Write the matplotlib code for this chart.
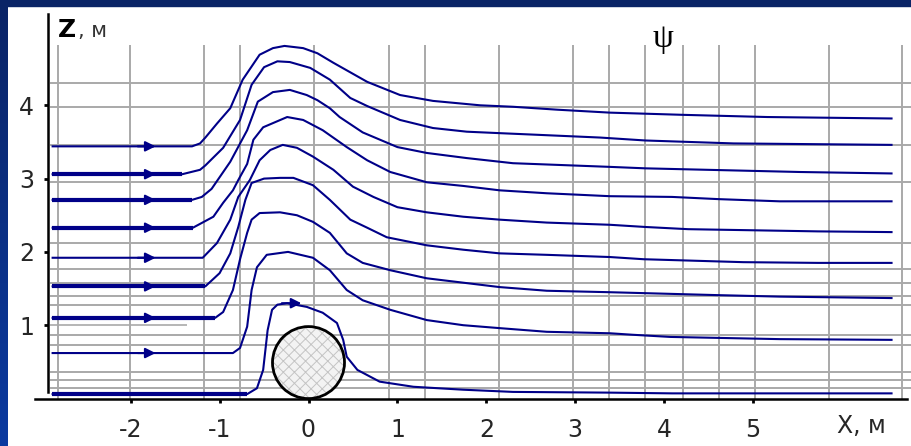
import matplotlib
matplotlib.use("Agg")
import matplotlib.pyplot as plt
import numpy as np
from matplotlib.patches import Ellipse, Rectangle
from matplotlib.colors import LinearSegmentedColormap

# ---------------- data ----------------
x_ticks = [-2, -1, 0, 1, 2, 3, 4, 5]
z_ticks = [1, 2, 3, 4]

grid_x = [-2.82, -2.01, -1.18, -0.77, 0.06, 0.91, 1.31, 2.14, 2.98, 3.38,
          3.79, 4.21, 4.62, 5.02, 5.86, 6.68]
grid_z = [4.30, 3.98, 3.46, 2.95, 2.12, 1.77, 1.58, 1.40, 1.28, 0.87, 0.73,
          0.36, 0.25, 0.14]

# streamlines (x, z), from top to bottom
L1_x = [-2.89, -1.31, -1.22, -1.16, -1.03, -0.88, -0.74, -0.55, -0.40, -0.27, -0.06,
        0.10, 0.28, 0.66, 1.03, 1.40, 1.93, 2.30, 2.80, 3.39, 4.21, 5.16, 6.57]
L1_z = [3.44, 3.44, 3.48, 3.56, 3.75, 3.96, 4.35, 4.69, 4.78, 4.81, 4.78,
        4.71, 4.58, 4.32, 4.14, 4.06, 4.00, 3.98, 3.94, 3.90, 3.87, 3.84, 3.82]

L2_x = [-2.89, -1.42, -1.22, -1.16, -0.96, -0.77, -0.64, -0.50, -0.35, -0.21, 0.02,
        0.24, 0.47, 0.66, 1.03, 1.40, 1.78, 2.15, 2.53, 3.28, 3.79, 4.78, 6.57]
L2_z = [3.06, 3.06, 3.12, 3.18, 3.42, 3.80, 4.28, 4.52, 4.60, 4.59, 4.51,
        4.35, 4.10, 3.99, 3.80, 3.69, 3.64, 3.62, 3.60, 3.56, 3.52, 3.48, 3.46]

L3_x = [-2.89, -1.31, -1.20, -1.09, -0.88, -0.69, -0.57, -0.40, -0.21, -0.02,
        0.10, 0.24, 0.35, 0.61, 1.00, 1.33, 1.78, 2.30, 3.39, 3.79, 5.53, 6.57]
L3_z = [2.71, 2.71, 2.75, 2.86, 3.23, 3.66, 4.05, 4.18, 4.21, 4.14,
        4.07, 3.96, 3.84, 3.63, 3.43, 3.35, 3.28, 3.21, 3.16, 3.14, 3.09, 3.07]

L4_x = [-2.89, -1.30, -1.07, -0.96, -0.85, -0.79, -0.69, -0.62, -0.51, -0.24, -0.06,
        0.16, 0.43, 0.66, 0.92, 1.33, 1.74, 2.15, 2.68, 3.39, 4.09, 4.61, 5.30, 6.57]
L4_z = [2.33, 2.33, 2.48, 2.67, 2.84, 2.98, 3.20, 3.53, 3.70, 3.84, 3.80,
        3.66, 3.43, 3.25, 3.09, 2.95, 2.90, 2.84, 2.80, 2.76, 2.75, 2.72, 2.69, 2.69]

L5_x = [-2.89, -1.19, -1.03, -0.88, -0.79, -0.66, -0.55, -0.43, -0.29, -0.13, 0.05,
        0.28, 0.50, 0.73, 1.00, 1.33, 1.74, 2.15, 2.68, 3.39, 3.79, 4.27, 5.73, 6.57]
L5_z = [1.92, 1.92, 2.12, 2.44, 2.75, 2.98, 3.25, 3.39, 3.46, 3.42, 3.30,
        3.12, 2.89, 2.75, 2.61, 2.54, 2.48, 2.44, 2.40, 2.37, 2.34, 2.31, 2.28, 2.27]

L6_x = [-2.89, -1.16, -1.00, -0.88, -0.79, -0.71, -0.64, -0.50, -0.32, -0.17, 0.05,
        0.24, 0.47, 0.66, 0.88, 1.33, 1.74, 2.15, 2.68, 3.39, 3.77, 4.89, 5.73, 6.57]
L6_z = [1.53, 1.53, 1.71, 1.98, 2.34, 2.71, 2.94, 3.00, 3.01, 3.01, 2.91,
        2.71, 2.44, 2.33, 2.20, 2.09, 2.03, 1.98, 1.96, 1.93, 1.90, 1.86, 1.85, 1.85]

L7_x = [-2.89, -1.05, -0.96, -0.85, -0.77, -0.69, -0.64, -0.55, -0.32, -0.13, 0.05,
        0.24, 0.43, 0.61, 0.92, 1.33, 1.74, 2.15, 2.68, 3.39, 4.61, 5.30, 6.57]
L7_z = [1.10, 1.10, 1.18, 1.48, 1.90, 2.26, 2.44, 2.53, 2.54, 2.50, 2.41,
        2.26, 1.98, 1.85, 1.75, 1.64, 1.58, 1.52, 1.47, 1.45, 1.41, 1.39, 1.37]

L8_x = [-2.89, -0.85, -0.77, -0.69, -0.64, -0.58, -0.47, -0.23, 0.05, 0.24, 0.43,
        0.61, 0.92, 1.33, 1.74, 2.15, 2.68, 3.39, 3.64, 4.07, 5.30, 6.57]
L8_z = [0.62, 0.62, 0.69, 0.98, 1.48, 1.79, 1.96, 2.00, 1.92, 1.75, 1.48,
        1.34, 1.21, 1.07, 1.00, 0.96, 0.91, 0.89, 0.87, 0.84, 0.81, 0.80]

L9_x = [-2.89, -0.69, -0.58, -0.51, -0.46, -0.41, -0.35, -0.24, -0.02, 0.16, 0.32,
        0.39, 0.43, 0.55, 0.80, 1.18, 1.74, 2.30, 3.39, 4.09, 6.57]
L9_z = [0.06, 0.06, 0.14, 0.39, 0.93, 1.21, 1.28, 1.30, 1.25, 1.17, 1.03,
        0.80, 0.57, 0.39, 0.23, 0.16, 0.12, 0.09, 0.08, 0.07, 0.07]

lines_x = [L1_x, L2_x, L3_x, L4_x, L5_x, L6_x, L7_x, L8_x, L9_x]
lines_z = [L1_z, L2_z, L3_z, L4_z, L5_z, L6_z, L7_z, L8_z, L9_z]
thick_start = [False, True, True, True, False, True, True, False, True]
left_arrow = [True, True, True, True, True, True, True, True, False]

cyl_x, cyl_z = 0.0, 0.49          # cylinder centre
cyl_r_px = 36                     # radius in pixels

# ---------------- figure ----------------
plt.rcParams["hatch.linewidth"] = 0.7
W, H = 911, 446
fig = plt.figure(figsize=(W / 100, H / 100), dpi=100, facecolor="white")

# blue frame (top band and left band with gradient)
bg = fig.add_axes([0, 0, 1, 1], zorder=-5)
bg.set_axis_off()
bg.set_xlim(0, W); bg.set_ylim(H, 0)
grad = np.linspace(0, 1, 200).reshape(-1, 1)
cm = LinearSegmentedColormap.from_list("b", ["#0a2466", "#0a3aa0"])
bg.imshow(grad, extent=[0, 8, H, 0], aspect="auto", cmap=cm, zorder=1)
bg.add_patch(Rectangle((0, 0), W, 6, color="#0a2466", zorder=2))

# main axes: left spine at px 48, bottom spine at px 398.5
x0px, sx = 308.5, 88.9
z0px, sz = 398.5, 73.3
ax = fig.add_axes([48 / W, (H - z0px) / H, (W - 48) / W, (z0px - 14) / H])
ax.set_facecolor("none")
ax.set_xlim((48 - x0px) / sx, (W - x0px) / sx)
ax.set_ylim(0, (z0px - 14) / sz)

# grid
gcol = "#a9a9a9"
ax.vlines(grid_x, 0, 4.82, color=gcol, lw=1.4, zorder=1)
ax.hlines(grid_z, -2.91, (W - x0px) / sx, color=gcol, lw=1.4, zorder=1)
ax.hlines([1.0], -2.91, -1.37, color=gcol, lw=1.2, zorder=1)

# cylinder
ew, eh = 2 * cyl_r_px / sx, 2 * cyl_r_px / sz
ax.add_patch(Ellipse((cyl_x, cyl_z), ew, eh, facecolor="#f3f3f3",
                     edgecolor="#c4c4c4", hatch="xxx", lw=0, zorder=2))
ax.add_patch(Ellipse((cyl_x, cyl_z), ew, eh, facecolor="none",
                     edgecolor="black", lw=2.0, zorder=4))

# streamlines
lc = "#000088"
for xs, zs, thick, arr in zip(lines_x, lines_z, thick_start, left_arrow):
    ax.plot(xs, zs, color=lc, lw=1.5, zorder=3, solid_capstyle="butt",
            solid_joinstyle="round")
    if thick:
        ax.plot(xs[:2], zs[:2], color=lc, lw=3.0, zorder=3, solid_capstyle="butt")
    if arr:
        ax.annotate("", xy=(-1.72, zs[0]), xytext=(-1.92, zs[0]),
                    arrowprops=dict(arrowstyle="-|>,head_length=0.6,head_width=0.3",
                                    color=lc, lw=1.5, shrinkA=0, shrinkB=0),
                    zorder=5)
# arrow on the lowest streamline above the cylinder
ax.annotate("", xy=(-0.08, L9_z[7]), xytext=(-0.30, L9_z[7]),
            arrowprops=dict(arrowstyle="-|>,head_length=0.6,head_width=0.3",
                            color=lc, lw=1.5, shrinkA=0, shrinkB=0), zorder=5)

# axes lines
for s in ["top", "right"]:
    ax.spines[s].set_visible(False)
ax.spines["left"].set_bounds(0.09, (z0px - 14) / sz)
ax.spines["bottom"].set_bounds((35 - x0px) / sx, (907 - x0px) / sx)
ax.spines["left"].set_linewidth(1.8)
ax.spines["bottom"].set_linewidth(1.8)
ax.spines["bottom"].set_zorder(6)

ax.set_xticks(x_ticks)
ax.set_xticklabels([str(v) for v in x_ticks])
ax.set_yticks(z_ticks)
ax.set_yticklabels([str(v) for v in z_ticks])
ax.tick_params(axis="x", direction="out", length=3, width=2, pad=11,
               labelsize=17, labelcolor="#262626")
ax.tick_params(axis="y", direction="out", length=3, width=2, pad=7,
               labelsize=17, labelcolor="#262626")

# axis titles
fig.text(58 / W, 1 - 37 / H, "Z", fontsize=18, fontweight="bold", color="black",
         ha="left", va="baseline")
fig.text(78 / W, 1 - 37 / H, ", м", fontsize=15, color="#333333",
         ha="left", va="baseline")
fig.text(837 / W, 1 - 433 / H, "X, м", fontsize=17, color="#262626",
         ha="left", va="baseline")
fig.text(663 / W, 1 - 47 / H, "ψ", fontsize=24, color="black",
         family="Liberation Serif", ha="center", va="baseline")

fig.savefig("out.png", dpi=100, facecolor="white")
